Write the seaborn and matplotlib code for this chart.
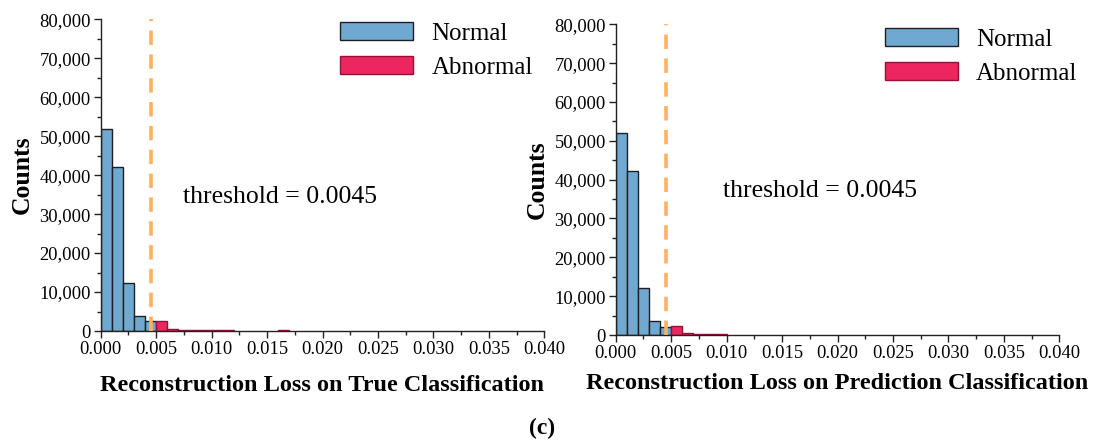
import numpy as np
import pandas as pd
import matplotlib
matplotlib.use("Agg")
import matplotlib.pyplot as plt
from matplotlib.ticker import FuncFormatter, MultipleLocator
import seaborn as sns

# ---- data (bin lower edges, bin width 0.001) ----
bin_width = 0.001
left_normal_bins = [0.000, 0.001, 0.002, 0.003, 0.004]
left_normal_counts = [51800, 42100, 12200, 3900, 2450]
left_abnormal_bins = [0.005, 0.006, 0.007, 0.008, 0.009, 0.010, 0.011, 0.016]
left_abnormal_counts = [2500, 600, 280, 150, 150, 150, 150, 170]

right_normal_bins = [0.000, 0.001, 0.002, 0.003, 0.004]
right_normal_counts = [52000, 42100, 12200, 3600, 2150]
right_abnormal_bins = [0.005, 0.006, 0.007, 0.008, 0.009]
right_abnormal_counts = [2200, 480, 130, 130, 130]

threshold = 0.0045
xlabels = ["Reconstruction Loss on True Classification",
           "Reconstruction Loss on Prediction Classification"]
threshold_text = "threshold = 0.0045"
x_ticks = [0.000, 0.005, 0.010, 0.015, 0.020, 0.025, 0.030, 0.035, 0.040]
y_ticks = [0, 10000, 20000, 30000, 40000, 50000, 60000, 70000, 80000]

# ---- style ----
sns.set_style("ticks")
plt.rcParams['font.family'] = ['Liberation Serif', 'DejaVu Serif']
plt.rcParams['text.color'] = 'black'
plt.rcParams['axes.labelcolor'] = 'black'
plt.rcParams['xtick.color'] = 'black'
plt.rcParams['ytick.color'] = 'black'

normal_color = "#6FA8D1"
abnormal_color = "#EC2760"
line_color = "#FFB15E"

fig = plt.figure(figsize=(10.95, 4.43), dpi=100)
ax_l = fig.add_axes([100.7 / 1095, 1 - 331 / 443, 443.6 / 1095, (331 - 19.3) / 443])
ax_r = fig.add_axes([615.7 / 1095, 1 - 335 / 443, 443.6 / 1095, (335 - 24.3) / 443])

panels = [
    (ax_l, left_normal_bins, left_normal_counts, left_abnormal_bins, left_abnormal_counts,
     xlabels[0], (0.0074, 34500), (340 / 1095, 1 - 22 / 443), 12.5),
    (ax_r, right_normal_bins, right_normal_counts, right_abnormal_bins, right_abnormal_counts,
     xlabels[1], (0.0097, 37000), (885 / 1095, 1 - 28 / 443), 8),
]

for ax, nb, nc, ab, ac, xl, tpos, lpos, lp in panels:
    dn = pd.DataFrame({"loss": np.array(nb) + bin_width / 2, "count": nc})
    da = pd.DataFrame({"loss": np.array(ab) + bin_width / 2, "count": ac})
    sns.histplot(data=dn, x="loss", weights="count", binwidth=bin_width,
                 binrange=(0.0, 0.040), ax=ax,
                 color=normal_color, alpha=1, edgecolor="#1f1f1f", linewidth=1.0,
                 label="Normal")
    sns.histplot(data=da, x="loss", weights="count", binwidth=bin_width,
                 binrange=(0.0, 0.040), ax=ax,
                 color=abnormal_color, alpha=1, edgecolor="#9a0f35", linewidth=1.0,
                 label="Abnormal")
    # drop empty bins so no outline runs along the baseline
    for p in list(ax.patches):
        if p.get_height() <= 0:
            p.remove()
    ax.axvline(threshold, color=line_color, lw=2.6, dashes=(4, 2.6), zorder=5)
    ax.set_xlim(0, 0.040)
    ax.set_ylim(0, 80000)
    ax.set_xticks(x_ticks)
    ax.set_yticks(y_ticks)
    ax.xaxis.set_minor_locator(MultipleLocator(0.0025))
    ax.yaxis.set_minor_locator(MultipleLocator(5000))
    ax.xaxis.set_major_formatter(FuncFormatter(lambda v, p: f"{v:.3f}"))
    ax.yaxis.set_major_formatter(FuncFormatter(lambda v, p: f"{int(round(v)):,}"))
    ax.tick_params(axis="both", which="major", direction="out", length=5, width=1,
                   labelsize=13.3, pad=2, color="#222222", labelcolor="black")
    ax.tick_params(axis="both", which="minor", direction="out", length=3, width=1,
                   color="#222222")
    for s in ["top", "right"]:
        ax.spines[s].set_visible(False)
    for s in ["left", "bottom"]:
        ax.spines[s].set_linewidth(1.0)
        ax.spines[s].set_color("#222222")
    ax.set_xlabel(xl, fontsize=17.5, fontweight="bold", labelpad=lp)
    ax.set_ylabel("Counts", fontsize=18.5, fontweight="bold", labelpad=4)
    ax.text(tpos[0], tpos[1], threshold_text, fontsize=18.5, va="center", ha="left")
    ax.legend(loc="upper left", bbox_to_anchor=lpos, bbox_transform=fig.transFigure,
              frameon=False, fontsize=18, handlelength=2.9, handleheight=0.75,
              handletextpad=0.75, labelspacing=0.45, borderaxespad=0, borderpad=0)

fig.text(542 / 1095, 1 - 428 / 443, "(c)", fontsize=17, fontweight="bold",
         ha="center", va="center")

fig.savefig("out.png", dpi=100, facecolor="white")
